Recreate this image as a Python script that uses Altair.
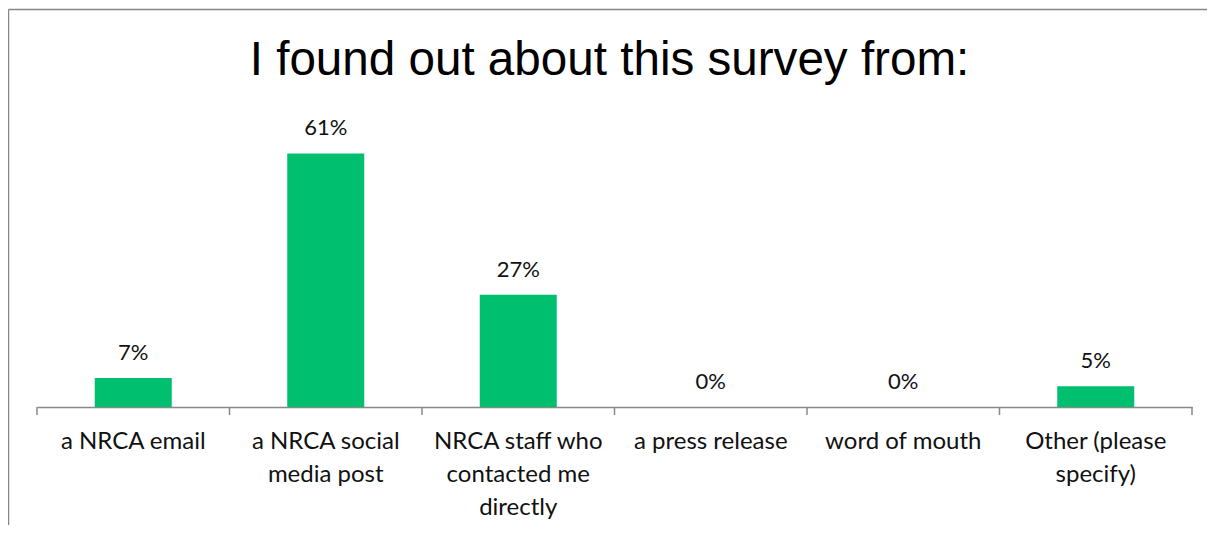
import altair as alt
import pandas as pd

TITLE = "I found out about this survey from:"
categories = [
    "a NRCA email",
    "a NRCA social media post",
    "NRCA staff who contacted me directly",
    "a press release",
    "word of mouth",
    "Other (please specify)",
]
label_lines = [
    ["a NRCA email"],
    ["a NRCA social", "media post"],
    ["NRCA staff who", "contacted me", "directly"],
    ["a press release"],
    ["word of mouth"],
    ["Other (please", "specify)"],
]
values = [0.07, 0.61, 0.27, 0.0, 0.0, 0.05]
value_labels = ["7%", "61%", "27%", "0%", "0%", "5%"]

df = pd.DataFrame({
    "cat": categories,
    "value": values,
    "label": value_labels,
    "last": [i == len(categories) - 1 for i in range(len(categories))],
})
title_df = pd.DataFrame({"t": [TITLE]})

W, H = 1155, 291
STEP = W / len(categories)
GREEN = "#00BF6F"
GRAY = "#898989"

label_map = "{" + ",".join(
    "'" + c + "':[" + ",".join("'" + s + "'" for s in lines) + "]"
    for c, lines in zip(categories, label_lines)
) + "}"

xscale = alt.Scale(domain=categories, paddingInner=0.6, paddingOuter=0.3)
x = alt.X(
    "cat:N",
    sort=categories,
    scale=xscale,
    axis=alt.Axis(
        title=None,
        ticks=False,
        domain=True,
        domainColor=GRAY,
        domainWidth=1.5,
        labelAngle=0,
        labelFont="Lato",
        labelFontSize=24,
        labelColor="#111111",
        labelBaseline="alphabetic",
        labelPadding=41,
        labelLineHeight=33,
        labelLimit=400,
        labelExpr=label_map + "[datum.value]",
    ),
)
y = alt.Y("value:Q", scale=alt.Scale(domain=[0, 0.7]), axis=None)

base = alt.Chart(df)

bars = base.mark_bar(color=GREEN).encode(x=x, y=y)

texts = base.mark_text(
    font="Lato", fontSize=22, color="#111111", baseline="alphabetic", dy=-18
).encode(x=alt.X("cat:N", sort=categories, scale=xscale), y=y, text="label:N")

ticks = base.mark_rule(color=GRAY, strokeWidth=1.5, xOffset=-0.3 * STEP).encode(
    x=alt.X("cat:N", sort=categories, scale=xscale, bandPosition=0),
    y=alt.value(H),
    y2=alt.value(H + 8),
)
end_tick = base.transform_filter("datum.last").mark_rule(
    color=GRAY, strokeWidth=1.5, xOffset=0.3 * STEP
).encode(
    x=alt.X("cat:N", sort=categories, scale=xscale, bandPosition=1),
    y=alt.value(H),
    y2=alt.value(H + 8),
)

border_left = base.transform_filter("datum.last").mark_rule(
    color="#868686", strokeWidth=1.5
).encode(x=alt.value(-28.5), y=alt.value(-106.5), y2=alt.value(H + 300))
border_top = base.transform_filter("datum.last").mark_rule(
    color="#868686", strokeWidth=1.5
).encode(x=alt.value(-28.5), x2=alt.value(W + 100), y=alt.value(-106.5))

title = alt.Chart(title_df).mark_text(
    font="Liberation Sans", fontSize=47.6, color="#000000",
    align="center", baseline="alphabetic",
).encode(x=alt.value(W / 2 - 5), y=alt.value(-41), text="t:N")

chart = alt.layer(
    bars, texts, ticks, end_tick, border_left, border_top, title
).properties(
    width=W,
    height=H,
    background="white",
    autosize=alt.AutoSizeParams(type="none"),
    padding={"left": 29, "top": 108, "right": 15, "bottom": 118},
).configure_view(strokeWidth=0, stroke="transparent")

chart.save("out.html", embed_options={"renderer": "svg", "actions": False})
